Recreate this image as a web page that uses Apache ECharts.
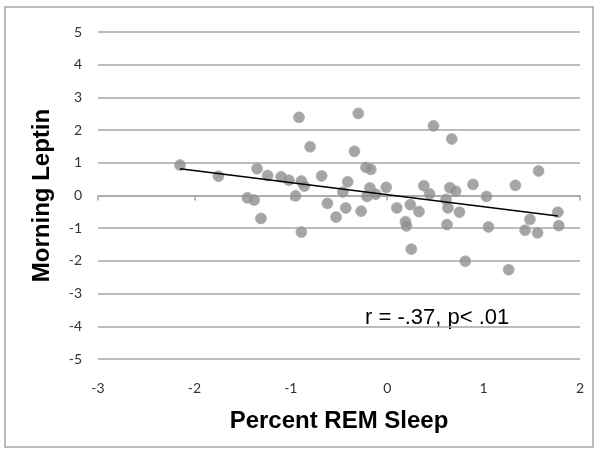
<!DOCTYPE html>
<html>
<head>
<meta charset="utf-8">
<script src="https://cdn.jsdelivr.net/npm/echarts@6/dist/echarts.min.js"></script>
<style>
  html, body { margin: 0; padding: 0; background: #fff; }
</style>
</head>
<body>
<div id="chart" style="width: 600px; height: 452px"></div>
<script>
// percent REM sleep (x) vs morning leptin (y)
const remSleep = [
  -2.15, -1.75, -1.35, -1.24, -1.10, -1.02, -1.45, -1.38, -1.31, -0.915,
  -0.89, -0.86, -0.80, -0.95, -0.89, -0.68, -0.62, -0.53, -0.43, -0.41,
  -0.46, -0.27, -0.34, -0.30, -0.22, -0.17, -0.18, -0.21, -0.12, -0.01,
  0.10, 0.24, 0.33, 0.19, 0.20, 0.25, 0.38, 0.44, 0.48, 0.67,
  0.61, 0.63, 0.65, 0.71, 0.62, 0.75, 0.81, 0.89, 1.03, 1.05,
  1.26, 1.33, 1.57, 1.48, 1.43, 1.56, 1.77, 1.78
]
const leptin = [
  0.93, 0.59, 0.82, 0.61, 0.57, 0.47, -0.07, -0.14, -0.70, 2.39,
  0.44, 0.29, 1.49, -0.01, -1.12, 0.60, -0.24, -0.66, -0.38, 0.42,
  0.11, -0.48, 1.35, 2.51, 0.86, 0.80, 0.23, -0.03, 0.04, 0.25,
  -0.38, -0.28, -0.49, -0.80, -0.93, -1.64, 0.30, 0.05, 2.13, 1.73,
  -0.12, -0.38, 0.24, 0.13, -0.89, -0.51, -2.01, 0.34, -0.03, -0.96,
  -2.27, 0.31, 0.75, -0.73, -1.06, -1.14, -0.51, -0.92
]
// linear trend line as drawn (endpoints)
const trendX = [-2.15, 1.77]
const trendY = [0.82, -0.63]

const xTicks = { min: -3, max: 2, interval: 1 }
const yTicks = { min: -5, max: 5, interval: 1 }

const points = remSleep.map((x, i) => [x, leptin[i]])
const trend = trendX.map((x, i) => [x, trendY[i]])

const labelFont = 'Lato, "Open Sans", sans-serif'
const titleFont = '"Liberation Sans", Arial, sans-serif'

const chart = echarts.init(document.getElementById('chart'))
chart.setOption({
  animation: false,
  backgroundColor: '#fff',
  grid: { left: 98, right: 20, top: 32, bottom: 93 },
  xAxis: [
    {
      type: 'value',
      ...xTicks,
      axisLine: { show: true, onZero: true, lineStyle: { color: '#a6a6a6', width: 1.5 } },
      axisTick: { show: true, inside: false, length: 5, lineStyle: { color: '#a6a6a6', width: 1.5 } },
      axisLabel: { show: false },
      splitLine: { show: false }
    },
    {
      type: 'value',
      position: 'bottom',
      ...xTicks,
      axisLine: { show: false, onZero: false },
      axisTick: { show: false },
      axisLabel: { color: '#333', fontSize: 14, fontFamily: labelFont, margin: 22 },
      splitLine: { show: false },
      name: 'Percent REM Sleep',
      nameLocation: 'middle',
      nameGap: 50,
      nameTextStyle: { color: '#000', fontSize: 24, fontWeight: 'bold', fontFamily: titleFont }
    }
  ],
  yAxis: {
    type: 'value',
    ...yTicks,
    axisLine: { show: false },
    axisTick: { show: false },
    axisLabel: { color: '#333', fontSize: 14, fontFamily: labelFont, margin: 16 },
    splitLine: { lineStyle: { color: '#a6a6a6', width: 1.5 } },
    name: 'Morning Leptin',
    nameLocation: 'middle',
    nameGap: 44,
    nameTextStyle: { color: '#000', fontSize: 24, fontWeight: 'bold', fontFamily: titleFont }
  },
  series: [
    {
      type: 'scatter',
      xAxisIndex: 0,
      data: points,
      symbolSize: 11,
      itemStyle: { color: '#8e8e8e', borderColor: '#a8a8a8', borderWidth: 0.8 },
      z: 2
    },
    {
      type: 'line',
      xAxisIndex: 0,
      data: trend,
      symbol: 'none',
      lineStyle: { color: '#000', width: 1.5 },
      z: 3
    }
  ],
  graphic: [
    {
      type: 'rect',
      shape: { x: 5, y: 7, width: 588, height: 440 },
      style: { fill: 'none', stroke: '#a6a6a6', lineWidth: 1.5 },
      silent: true
    },
    {
      type: 'text',
      x: 365,
      y: 318,
      style: {
        text: 'r = -.37, p< .01', fill: '#000', fontSize: 22,
        fontFamily: titleFont, verticalAlign: 'middle', align: 'left'
      }
    }
  ]
})
</script>
</body>
</html>
